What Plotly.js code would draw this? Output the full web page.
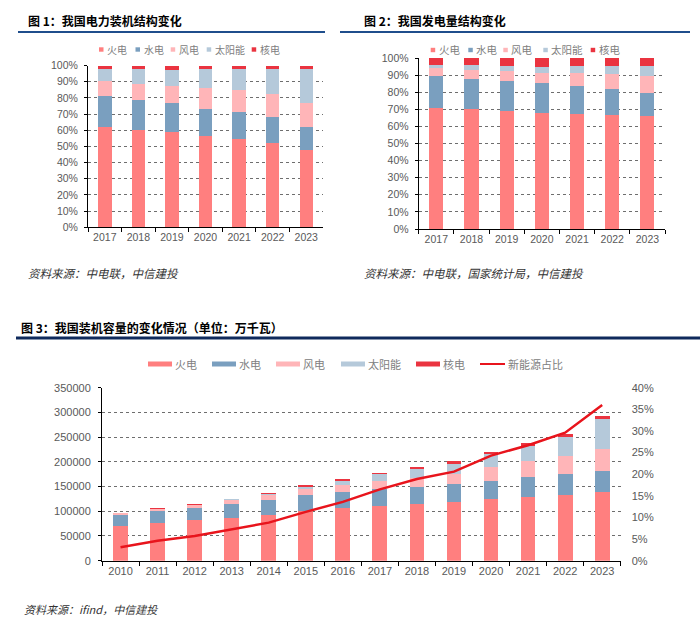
<!DOCTYPE html>
<html><head><meta charset="utf-8">
<script src="https://cdn.plot.ly/plotly-3.0.1.min.js"></script>
<style>html,body{margin:0;padding:0;background:#fff}</style>
</head><body><div id="chart" style="width:700px;height:632px"></div>
<script>
// ---------- Data ----------
const years1 = ['2017','2018','2019','2020','2021','2022','2023'];
// Fig 1: installed capacity structure (%)
const cap_thermal = [62.2,60.2,59.2,56.6,54.6,52.0,47.6];
const cap_hydro   = [19.2,18.5,17.7,16.8,16.4,16.1,14.4];
const cap_wind    = [9.2,9.7,10.4,12.8,13.8,14.3,15.1];
const cap_solar   = [7.3,9.2,10.2,11.5,12.9,15.3,21.0];
const cap_nuclear = [2.1,2.4,2.5,2.3,2.3,2.3,1.9];
// Fig 2: generation structure (%)
const gen_thermal = [71.0,70.4,68.9,67.9,67.4,66.5,66.3];
const gen_hydro   = [18.6,17.6,17.8,17.4,16.0,15.3,13.5];
const gen_wind    = [4.8,5.2,5.5,6.1,7.8,8.8,9.4];
const gen_solar   = [1.8,2.5,3.1,3.4,3.9,4.9,6.2];
const gen_nuclear = [3.8,4.3,4.7,5.2,4.9,4.5,4.6];
// Fig 3: installed capacity (万千瓦)
const years3 = ['2010','2011','2012','2013','2014','2015','2016','2017','2018','2019','2020','2021','2022','2023'];
const mw_thermal = [70967,76834,81968,87009,93232,100554,106094,110604,114408,119055,124517,129678,133239,139032];
const mw_hydro   = [21606,23298,24947,28044,30486,31954,33207,34411,35259,35804,37016,39092,41350,42154];
const mw_wind    = [2958,4623,6142,7652,9657,13075,14747,16400,18427,21005,28153,32848,36544,44134];
const mw_solar   = [26,212,341,1589,2486,4218,7631,13042,17463,20468,25343,30656,39261,60949];
const mw_nuclear = [1082,1257,1257,1466,2008,2717,3364,3582,4466,4874,4989,5326,5553,5691];
const newShare   = [3.1,4.6,5.7,7.3,8.8,11.3,13.6,16.5,18.9,20.6,24.3,26.7,29.6,36.0];
const names = ['火电','水电','风电','太阳能','核电'];
const lineName = '新能源占比';

// ---------- Styling ----------
const W=700,H=632;
const px = x => x/W, py = y => 1 - y/H;
const colors = ['#FF7F7F','#7A9FBF','#FFB5B8','#B5C9DA','#EA3440'];
const lineColor = '#E8141C';
const tickFont = s => ({family:'Liberation Sans, Arial, sans-serif', size:s, color:'#595959'});
const cjk = 'Noto Sans CJK SC, sans-serif';

const traces = [];
const set1 = [cap_thermal,cap_hydro,cap_wind,cap_solar,cap_nuclear];
const set2 = [gen_thermal,gen_hydro,gen_wind,gen_solar,gen_nuclear];
const set3 = [mw_thermal,mw_hydro,mw_wind,mw_solar,mw_nuclear];
set1.forEach((v,i)=>traces.push({type:'bar',x:years1,y:v,name:names[i],marker:{color:colors[i]},xaxis:'x',yaxis:'y',showlegend:false}));
set2.forEach((v,i)=>traces.push({type:'bar',x:years1,y:v,name:names[i],marker:{color:colors[i]},xaxis:'x2',yaxis:'y2',showlegend:false}));
set3.forEach((v,i)=>traces.push({type:'bar',x:years3,y:v,name:names[i],marker:{color:colors[i]},xaxis:'x3',yaxis:'y3',showlegend:false}));
traces.push({type:'scatter',mode:'lines',x:years3,y:newShare,name:lineName,line:{color:lineColor,width:2.5},xaxis:'x3',yaxis:'y4',showlegend:false});

const xCommon = (s)=>({type:'category',tickson:'boundaries',ticks:'outside',ticklen:4,tickcolor:'#000',
  showline:true,linecolor:'#000',linewidth:1,showgrid:false,tickfont:tickFont(s),fixedrange:true});
const yCommon = (s)=>({showline:true,linecolor:'#000',linewidth:1,ticks:'outside',ticklen:3,tickcolor:'#000',
  showgrid:true,gridcolor:'#6e6e6e',griddash:'dot',gridwidth:1,zeroline:false,tickfont:tickFont(s),fixedrange:true,ticklabelstandoff:4});

const layout = {
  width:W,height:H,margin:{l:0,r:0,t:0,b:0},paper_bgcolor:'#fff',plot_bgcolor:'rgba(0,0,0,0)',
  barmode:'stack',bargap:0.6,showlegend:false,
  xaxis:Object.assign(xCommon(10.5),{domain:[px(88),px(323)],anchor:'y'}),
  yaxis:Object.assign(yCommon(10.5),{domain:[py(227.3),py(65.5)],anchor:'x',range:[0,100],dtick:10,ticksuffix:'%'}),
  xaxis2:Object.assign(xCommon(10.5),{domain:[px(418.7),px(665)],anchor:'y2'}),
  yaxis2:Object.assign(yCommon(10.5),{domain:[py(229),py(58)],anchor:'x2',range:[0,100],dtick:10,ticksuffix:'%'}),
  xaxis3:Object.assign(xCommon(11),{domain:[px(102),px(620.7)],anchor:'y3'}),
  yaxis3:Object.assign(yCommon(11),{domain:[py(560.7),py(387.7)],anchor:'x3',range:[0,350000],dtick:50000,tickformat:'d',ticklabelstandoff:5}),
  yaxis4:{overlaying:'y3',side:'right',anchor:'x3',range:[0,40],dtick:5,ticksuffix:'%',showline:false,ticks:'',
    showgrid:false,zeroline:false,tickfont:tickFont(11),fixedrange:true,ticklabelstandoff:10},
  shapes:[],annotations:[]
};

// header rules
layout.shapes.push({type:'line',xref:'paper',yref:'paper',x0:px(18),x1:px(325),y0:py(32),y1:py(32),line:{color:'#1F4E8C',width:2}});
layout.shapes.push({type:'line',xref:'paper',yref:'paper',x0:px(340),x1:px(690),y0:py(32),y1:py(32),line:{color:'#1F4E8C',width:2}});
layout.shapes.push({type:'line',xref:'paper',yref:'paper',x0:px(16),x1:px(700),y0:py(338),y1:py(338),line:{color:'#0F2A5C',width:3}});

function ann(x,y,text,opts){
  layout.annotations.push(Object.assign({xref:'paper',yref:'paper',x:px(x),y:py(y),text:text,showarrow:false,
    xanchor:'left',yanchor:'middle',font:{family:cjk,size:11,color:'#000'}},opts||{}));
}
// headers
ann(26,21,'<b>图 1：我国电力装机结构变化</b>',{font:{family:cjk,size:12,color:'#000'}});
ann(362,21,'<b>图 2：我国发电量结构变化</b>',{font:{family:cjk,size:12,color:'#000'}});
ann(19,327,'<b>图 3：我国装机容量的变化情况（单位：万千瓦）</b>',{font:{family:cjk,size:12,color:'#000'}});
// sources
ann(26,273,'<i>资料来源：中电联，中信建投</i>',{font:{family:cjk,size:11.5,color:'#333'}});
ann(362,273,'<i>资料来源：中电联，国家统计局，中信建投</i>',{font:{family:cjk,size:11.5,color:'#333'}});
ann(22,609,'<i>资料来源：ifind，中信建投</i>',{font:{family:cjk,size:11,color:'#333'}});

// legends fig1 & fig2 (small squares)
const leg1 = [99,135.5,170.7,206.7,251.7];
const leg2 = [430.7,468.3,503.3,543.3,590.7];
function sq(x,y,c){layout.shapes.push({type:'rect',xref:'paper',yref:'paper',x0:px(x),x1:px(x+4.5),y0:py(y+2.2),y1:py(y-2.2),fillcolor:c,line:{width:0}});}
leg1.forEach((x,i)=>{sq(x,49.5,colors[i]);ann(x+6,49.5,names[i],{font:{family:cjk,size:10,color:'#808080'}});});
leg2.forEach((x,i)=>{sq(x,50,colors[i]);ann(x+6,50,names[i],{font:{family:cjk,size:10.5,color:'#808080'}});});
// legend fig3 (wide swatches)
const leg3 = [148,212,276,341,416];
leg3.forEach((x,i)=>{
  layout.shapes.push({type:'rect',xref:'paper',yref:'paper',x0:px(x),x1:px(x+24),y0:py(366.5),y1:py(361.5),fillcolor:colors[i],line:{width:0}});
  ann(x+25,364,names[i],{font:{family:cjk,size:11,color:'#808080'}});
});
layout.shapes.push({type:'line',xref:'paper',yref:'paper',x0:px(480),x1:px(505),y0:py(364),y1:py(364),line:{color:lineColor,width:2}});
ann(506,364,lineName,{font:{family:cjk,size:11,color:'#808080'}});

Plotly.newPlot('chart',traces,layout,{staticPlot:true,displayModeBar:false});
</script></body></html>
